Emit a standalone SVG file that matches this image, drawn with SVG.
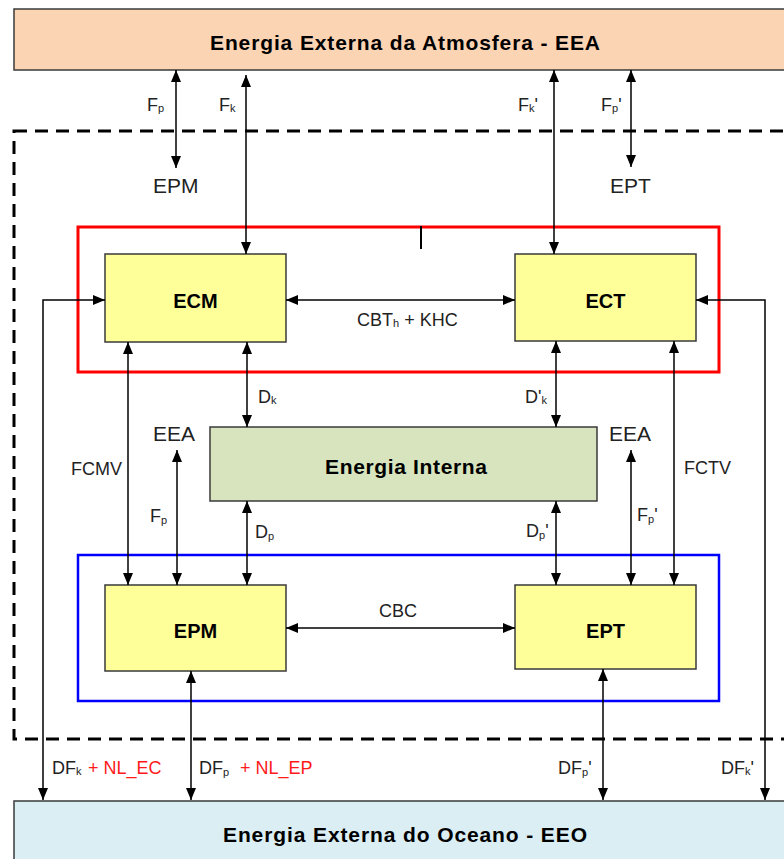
<svg xmlns="http://www.w3.org/2000/svg" width="784" height="859" viewBox="0 0 784 859">
<defs>
<marker id="ah" viewBox="0 0 12 10" refX="12" refY="5" markerWidth="12" markerHeight="10" markerUnits="userSpaceOnUse" orient="auto-start-reverse">
<path d="M0,0 L12,5 L0,10 z" fill="#000"/>
</marker>
<style>
.box{stroke:#3a3a3a;stroke-width:1.5}
.yel{fill:#FFFF99}
.title{font-family:"Liberation Sans",Arial,sans-serif;font-weight:bold;font-size:21px;fill:#000}
.bt{font-family:"Liberation Sans",Arial,sans-serif;font-weight:bold;font-size:20px;fill:#000;text-anchor:middle}
.lbl{font-family:"Liberation Sans",Arial,sans-serif;font-size:18px;fill:#222}
.big{font-family:"Liberation Sans",Arial,sans-serif;font-size:21px;fill:#222}
.sub{font-size:11px}
.red{fill:#FF1A1A}
.c{fill:none;stroke:#000;stroke-width:1.5;marker-start:url(#ah);marker-end:url(#ah)}
</style>
</defs>
<rect width="784" height="859" fill="#fff"/>

<g id="EEA">
<rect class="box" x="14" y="9" width="790" height="61" fill="#FBD4B4"/>
<text class="title" x="210" y="50" textLength="390" lengthAdjust="spacing">Energia Externa da Atmosfera - EEA</text>
</g>

<g id="boundary">
<rect x="14" y="131" width="800" height="608" fill="none" stroke="#000" stroke-width="3" stroke-dasharray="13 8"/>
</g>

<g id="cinetica">
<rect x="78" y="227" width="641" height="145" fill="none" stroke="#FF0000" stroke-width="3"/>
<line x1="421" y1="226" x2="421" y2="249" stroke="#000" stroke-width="2"/>
</g>

<g id="potencial">
<rect x="78" y="555" width="641" height="146" fill="none" stroke="#0000FF" stroke-width="2.5"/>
</g>

<g id="ECM">
<rect class="box yel" x="105" y="254" width="181" height="88"/>
<text class="bt" x="195.5" y="308">ECM</text>
</g>
<g id="ECT">
<rect class="box yel" x="515" y="254" width="181" height="87"/>
<text class="bt" x="605.5" y="308">ECT</text>
</g>
<g id="EI">
<rect class="box" x="210" y="427" width="387" height="74" fill="#D7E4BD"/>
<text class="title" x="325" y="474" textLength="162" lengthAdjust="spacing">Energia Interna</text>
</g>
<g id="EPM">
<rect class="box yel" x="105" y="585" width="181" height="86"/>
<text class="bt" x="195.5" y="638">EPM</text>
</g>
<g id="EPT">
<rect class="box yel" x="515" y="585" width="181" height="84"/>
<text class="bt" x="605.5" y="638">EPT</text>
</g>
<g id="EEO">
<rect class="box" x="14" y="801" width="790" height="80" fill="#DAEEF3"/>
<text class="title" x="223" y="842" textLength="364" lengthAdjust="spacing">Energia Externa do Oceano  - EEO</text>
</g>

<g id="connectors">
<line class="c" x1="176" y1="70" x2="176" y2="168"/>
<line class="c" x1="246" y1="75" x2="246" y2="254"/>
<line class="c" x1="554" y1="70" x2="554" y2="254"/>
<line class="c" x1="631" y1="70" x2="631" y2="167"/>
<line class="c" x1="286" y1="300" x2="515" y2="300"/>
<path class="c" d="M105,300 H43 V800"/>
<path class="c" d="M696,300 H765 V800"/>
<line class="c" x1="128" y1="342" x2="128" y2="585"/>
<line class="c" x1="247" y1="342" x2="247" y2="427"/>
<line class="c" x1="177" y1="450" x2="177" y2="585"/>
<line class="c" x1="247" y1="501" x2="247" y2="585"/>
<line class="c" x1="556" y1="341" x2="556" y2="427"/>
<line class="c" x1="556" y1="501" x2="556" y2="585"/>
<line class="c" x1="631" y1="450" x2="631" y2="585"/>
<line class="c" x1="674" y1="341" x2="674" y2="585"/>
<line class="c" x1="286" y1="628" x2="515" y2="628"/>
<line class="c" x1="191" y1="671" x2="191" y2="800"/>
<line class="c" x1="603" y1="669" x2="603" y2="800"/>
</g>

<g id="labels">
<text class="lbl" x="147" y="111">F<tspan class="sub" dy="1">p</tspan></text>
<text class="lbl" x="219" y="111">F<tspan class="sub" dy="1">k</tspan></text>
<text class="lbl" x="518" y="111">F<tspan class="sub" dy="1">k</tspan><tspan dy="-1">'</tspan></text>
<text class="lbl" x="601" y="111">F<tspan class="sub" dy="1">p</tspan><tspan dy="-1">'</tspan></text>
<text class="big" x="153" y="193">EPM</text>
<text class="big" x="610" y="193">EPT</text>
<text class="lbl" x="357" y="326">CBT<tspan class="sub" dy="1">h</tspan><tspan dy="-1"> + KHC</tspan></text>
<text class="lbl" x="258" y="403">D<tspan class="sub" dy="1">k</tspan></text>
<text class="lbl" x="525" y="403">D'<tspan class="sub" dy="1">k</tspan></text>
<text class="big" x="153" y="441">EEA</text>
<text class="big" x="609" y="441">EEA</text>
<text class="lbl" x="71" y="475">FCMV</text>
<text class="lbl" x="684" y="474">FCTV</text>
<text class="lbl" x="150" y="522">F<tspan class="sub" dy="2">p</tspan></text>
<text class="lbl" x="637" y="521">F<tspan class="sub" dy="2">p</tspan><tspan dy="-2">'</tspan></text>
<text class="lbl" x="255" y="538">D<tspan class="sub" dy="2">p</tspan></text>
<text class="lbl" x="526" y="537">D<tspan class="sub" dy="2">p</tspan><tspan dy="-2">'</tspan></text>
<text class="lbl" x="379" y="617">CBC</text>
<text class="lbl" x="52" y="774">DF<tspan class="sub" dy="1">k</tspan><tspan class="red" x="88" dy="-1">+ NL_EC</tspan></text>
<text class="lbl" x="199" y="774">DF<tspan class="sub" dy="2">p</tspan><tspan class="red" x="240" dy="-2">+ NL_EP</tspan></text>
<text class="lbl" x="558" y="774">DF<tspan class="sub" dy="2">p</tspan><tspan dy="-2">'</tspan></text>
<text class="lbl" x="721" y="774">DF<tspan class="sub" dy="1">k</tspan><tspan dy="-1">'</tspan></text>
</g>
</svg>
